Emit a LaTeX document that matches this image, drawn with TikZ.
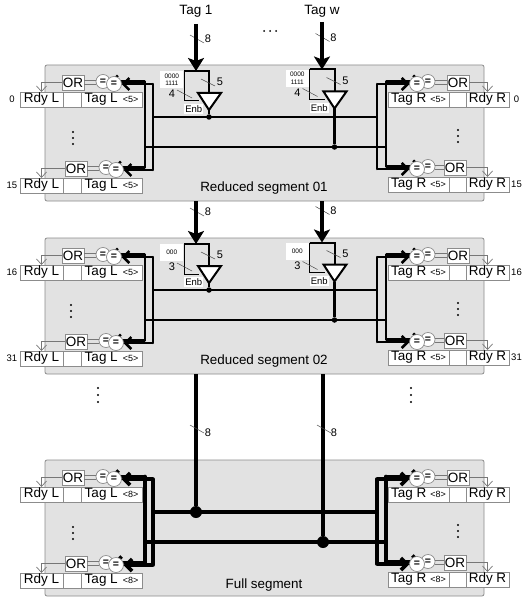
\documentclass[tikz,border=0pt]{standalone}
\usepackage{fontspec}
\setmainfont{Liberation Sans}
\usetikzlibrary{arrows.meta,calc}
\newcommand\fs[1]{\fontsize{#1}{#1}\selectfont}
\definecolor{seggray}{HTML}{E2E2E2}
\definecolor{edgegray}{HTML}{8C8C8C}
\definecolor{wiregray}{HTML}{777777}
\tikzset{
  segbg/.style={draw=edgegray,fill=seggray,rounded corners=2pt,line width=.8pt,minimum width=439pt,minimum height=136pt,anchor=north west,inner sep=0pt,outer sep=0pt},
  cell/.style={draw=edgegray,fill=white,line width=.8pt,minimum height=15pt,anchor=north west,inner sep=0pt,outer sep=0pt,font=\fs{13.5}},
  orbox/.style={draw=edgegray,fill=white,line width=.8pt,minimum width=22pt,minimum height=15pt,anchor=north west,inner sep=0pt,outer sep=0pt,font=\fs{13.5}},
  eqc/.style={circle,draw=edgegray,fill=white,line width=.7pt,inner sep=0pt,outer sep=0pt,font=\bfseries\fs{10.5}},
  wire/.style={draw=wiregray,line width=.7pt},
  wirearrow/.style={wire,-{Straight Barb[length=5.5pt,width=10pt]}},
  tick/.style={draw=black!70,line width=.5pt},
  lbl/.style={inner sep=0pt,font=\fs{11}},
  idx/.style={inner sep=0pt,font=\fs{9.5}},
  stemline/.style={line width=3.6pt,draw=black},
  dotn/.style={circle,fill=black,inner sep=0pt,outer sep=0pt,minimum size=5.5pt},
  bigdot/.style={circle,fill=black,inner sep=0pt,outer sep=0pt,minimum size=12pt}
}
% prefix, table top, OR x, c1 x, c2 x, size, idx text, bus width
\newcommand\RowL[8]{
  \node[cell,minimum width=43pt] (#1rdy) at (20,#2) {Rdy L};
  \node[cell,minimum width=18pt] (#1gap) at (63,#2) {};
  \node[cell,minimum width=61pt] (#1tag) at (81,#2) {Tag L\hspace{5pt}{\fs{9}<#6>}};
  \node[orbox] (#1or) at (#3,{#2-17}) {OR};
  \draw[wirearrow] (#1or.west) -| (#1rdy.north);
  \node[idx] (#1idx) at (12,{#2+7.5}) {#7};
  \node[eqc,minimum size=14pt] (#1c1) at (#4,{#2-10.5}) {=};
  \draw[wire] ([yshift=2pt]#1or.east) -- ([yshift=2pt]#1or.east -| #1c1.west);
  \draw[wire] ([yshift=-2pt]#1or.east) -- ([yshift=-2pt]#1or.east -| #1c1.west);
  \coordinate (#1in) at (145,{#2-10.5});
  \coordinate (#1out) at (153,{#2-8});
  \draw[line width=#8,-{Straight Barb[length=6pt,width=12pt]}] (#1in) -- (#1c1.east);
  \node[eqc,minimum size=15pt] (#1c2) at (#5,{#2-8}) {=};
  \draw[line width=#8,-{Straight Barb[length=6pt,width=12pt]}] (#1out) -- (#1c2.east);
}
\newcommand\RowR[8]{
  \node[cell,minimum width=61pt] (#1tag) at (388,#2) {Tag R\hspace{4pt}{\fs{9}<#6>}};
  \node[cell,minimum width=17pt] (#1gap) at (449,#2) {};
  \node[cell,minimum width=43pt] (#1rdy) at (466,#2) {Rdy R};
  \node[orbox] (#1or) at (#3,{#2-17}) {OR};
  \draw[wirearrow] (#1or.east) -| (#1rdy.north);
  \node[idx] (#1idx) at (516.5,{#2+7.5}) {#7};
  \node[eqc,minimum size=14pt] (#1c1) at (#4,{#2-10.5}) {=};
  \draw[wire] ([yshift=2pt]#1or.west) -- ([yshift=2pt]#1or.west -| #1c1.east);
  \draw[wire] ([yshift=-2pt]#1or.west) -- ([yshift=-2pt]#1or.west -| #1c1.east);
  \coordinate (#1in) at (386,{#2-10.5});
  \coordinate (#1out) at (377,{#2-8});
  \draw[line width=#8,-{Straight Barb[length=6pt,width=12pt]}] (#1in) -- (#1c1.west);
  \node[eqc,minimum size=15pt] (#1c2) at (#5,{#2-8}) {=};
  \draw[line width=#8,-{Straight Barb[length=6pt,width=12pt]}] (#1out) -- (#1c2.west);
}
% prefix, title, idx0L, idx1L, size, bus width, dots x, title y
\newcommand\SegBody[8]{
  \node[segbg] (#1bg) at (45,65) {};
  \node[inner sep=0pt,font=\fs{13.4}] (#1title) at (264,#8) {#2};
  \RowL{#1a}{92}{62}{103}{114}{#5}{#3}{#6}
  \RowL{#1b}{178}{65}{106}{116}{#5}{#4}{#6}
  \RowR{#1c}{92}{447}{428}{417}{#5}{#3}{#6}
  \RowR{#1d}{177}{444}{428}{417}{#5}{#4}{#6}
  \draw[line width=#6,line cap=round] (#1ain) -- (#1bin);
  \draw[line width=#6,line cap=round] (#1aout) -- (#1bout);
  \draw[line width=#6,line cap=round] (#1cin) -- (#1din);
  \draw[line width=#6,line cap=round] (#1cout) -- (#1dout);
  \coordinate (#1ha) at (153,117); \coordinate (#1hb) at (377,117);
  \coordinate (#1ka) at (145,147); \coordinate (#1kb) at (386,147);
  \draw[line width=#6] (#1ha) -- (#1hb);
  \draw[line width=#6] (#1ka) -- (#1kb);
  \foreach \yy in {132,138,144} {\fill (#7,\yy) circle (1.1pt);}
  \foreach \yy in {130,136,142} {\fill (458,\yy) circle (1.1pt);}
}
% prefix, label text, width label
\newcommand\BufBlock[3]{
  \node[minimum width=25pt,minimum height=30pt,inner sep=0pt,outer sep=0pt,anchor=north west] (#1rect) at (184,71) {};
  \node[fill=white,minimum width=23pt,minimum height=17pt,inner sep=0pt,align=center,font=\fs{6.5},anchor=north east] (#1bits) at (183.5,71) {#2};
  \draw[line width=1pt] (#1rect.north west) -- (#1rect.south west) -- ++(15,0);
  \draw[line width=2pt] (#1rect.north west) -- (#1rect.north east) -- (#1rect.south east);
  \coordinate (#1apex) at (209,110);
  \draw[line width=2pt,fill=white,line join=miter] (198,93) -- (221,93) -- (#1apex) -- cycle;
  \node[fill=white,minimum width=19pt,minimum height=10pt,inner sep=0pt,font=\fs{9.5},anchor=north west] (#1enb) at (184,104) {Enb};
  \node[lbl] (#1n8) at (208,39) {8};
  \node[lbl] (#1n5) at (220,82) {5};
  \node[lbl] (#1nb) at (172,94) {#3};
  \draw[tick] (190,35) -- ++(14,8);
  \draw[tick] (201,79) -- ++(14,7);
  \draw[tick] (177,90) -- ++(15,8);
}
\begin{document}
\begin{tikzpicture}[x=1pt,y=-1pt]
\useasboundingbox (0,0) rectangle (522,599);
\fill[white] (0,0) rectangle (522,599);

\SegBody{s}{Reduced segment 01}{0}{15}{5}{2.5pt}{73}{188}
\begin{scope}[shift={(0,0)}]
  \BufBlock{sp}{0000\\[1pt]1111}{4}
\end{scope}
\begin{scope}[shift={(125.5,-1.5)}]
  \BufBlock{sq}{0000\\[1pt]1111}{4}
\end{scope}

\begin{scope}[shift={(0,173)}]
  \SegBody{t}{Reduced segment 02}{16}{31}{5}{2.5pt}{71}{188}
  \BufBlock{tp}{000}{3}
\end{scope}
\begin{scope}[shift={(125.5,171.5)}]
  \BufBlock{tq}{000}{3}
\end{scope}

\begin{scope}[shift={(0,395)}]
  \SegBody{f}{Full segment}{}{}{8}{3.6pt}{73}{190}
\end{scope}

% junctions reduced segments
\node[dotn] (spdot) at (spapex |- sha) {};
\node[dotn] (sqdot) at (sqapex |- ska) {};
\node[dotn] (tpdot) at (tpapex |- tha) {};
\node[dotn] (tqdot) at (tqapex |- tka) {};
\foreach \p/\q in {spapex/spdot,sqapex/sqdot,tpapex/tpdot,tqapex/tqdot}
  \draw[line width=2.2pt] (\p) -- (\q);

% stems
\coordinate (tag1) at (196,24);
\coordinate (tagw) at (322,22);
\node[inner sep=0pt,font=\fs{13.5}] (tag1lbl) at (196,11) {Tag 1};
\node[inner sep=0pt,font=\fs{13.5}] (tagwlbl) at (322,11) {Tag w};
\foreach \xx in {264,270,276} {\fill (\xx,31) circle (1pt);}
\tikzset{stemarrow/.style={stemline,-{Stealth[length=13pt,width=16pt,inset=3pt]}}}
\draw[stemarrow] (tag1) -- (tag1 |- sprect.north);
\draw[stemarrow] (tagw) -- (tagw |- sqrect.north);
\draw[stemarrow] (tag1 |- sbg.south) -- (tag1 |- tprect.north);
\draw[stemarrow] (tagw |- sbg.south) -- (tagw |- tqrect.north);

% full segment junctions
\node[bigdot] (fdota) at (196,512) {};
\node[bigdot] (fdotb) at (323,542) {};
\draw[stemline] (fdota |- tbg.south) -- (fdota);
\draw[stemline] (fdotb |- tbg.south) -- (fdotb);
\node[lbl] (fn8a) at (208,433) {8};
\node[lbl] (fn8b) at (334,433) {8};
\draw[tick] (190,425) -- ++(14,8);
\draw[tick] (317,425) -- ++(14,8);

% dots between segments
\foreach \yy in {388,395,402} {\fill (98,\yy) circle (1.1pt); \fill (411,\yy) circle (1.1pt);}
\end{tikzpicture}
\end{document}
